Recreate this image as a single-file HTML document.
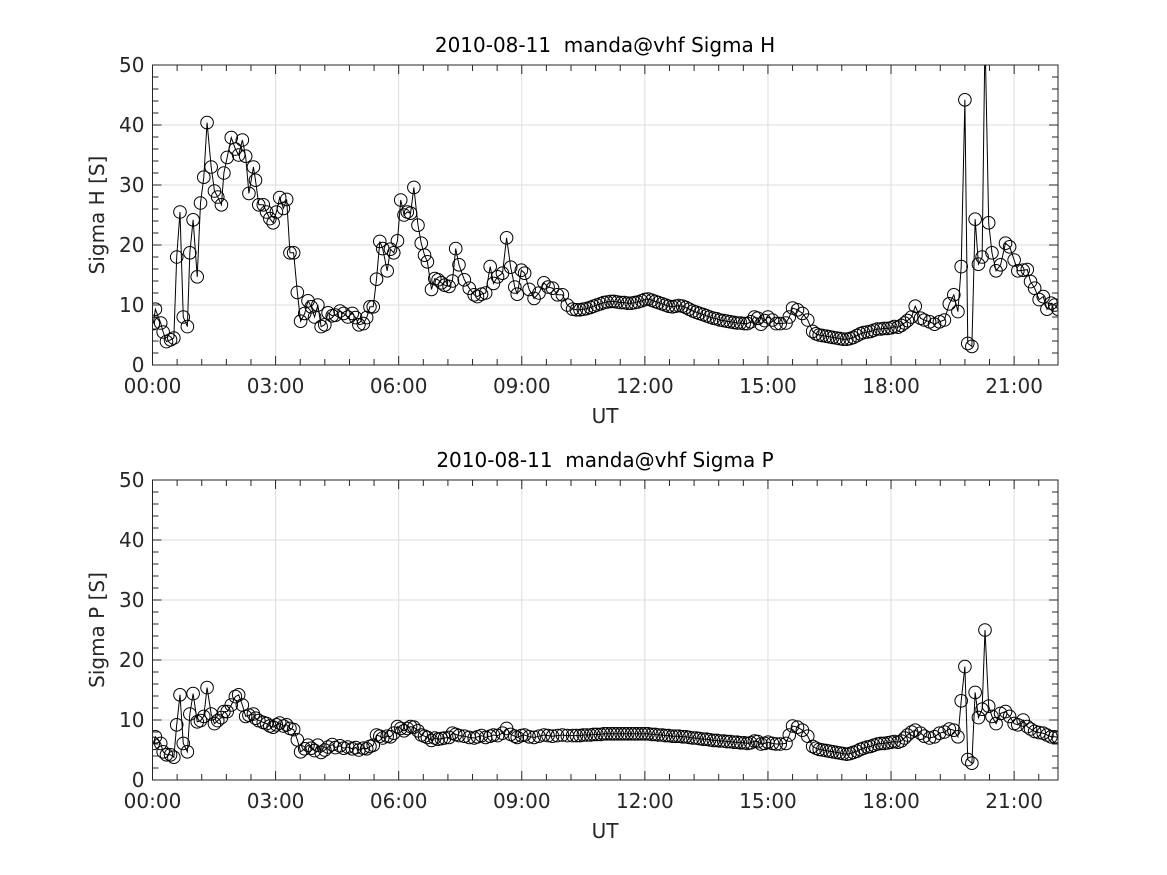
<!DOCTYPE html>
<html><head><meta charset="utf-8"><style>
html,body{margin:0;padding:0;background:#fff;}
svg{display:block;font-family:"DejaVu Sans","Liberation Sans",sans-serif;}
</style></head><body>
<svg id="fig" width="1167" height="875" viewBox="0 0 1167 875" xmlns="http://www.w3.org/2000/svg"></svg>
<script>
const times = [0.02,0.07,0.20,0.26,0.34,0.44,0.52,0.59,0.67,0.75,0.85,0.91,0.99,1.09,1.17,1.25,1.33,1.43,1.51,1.59,1.68,1.74,1.82,1.92,2.02,2.10,2.19,2.27,2.35,2.46,2.51,2.59,2.70,2.78,2.86,2.94,3.02,3.10,3.19,3.27,3.35,3.44,3.53,3.61,3.71,3.79,3.87,3.95,4.03,4.11,4.20,4.28,4.38,4.46,4.57,4.66,4.76,4.87,4.95,5.03,5.14,5.22,5.30,5.38,5.46,5.54,5.61,5.72,5.80,5.88,5.97,6.05,6.13,6.21,6.29,6.37,6.47,6.55,6.63,6.70,6.80,6.88,6.96,7.04,7.12,7.23,7.31,7.39,7.47,7.60,7.72,7.84,7.92,8.02,8.12,8.23,8.31,8.41,8.53,8.63,8.73,8.83,8.89,8.99,9.07,9.18,9.30,9.42,9.54,9.64,9.75,9.87,9.99,10.11,10.24,
10.33,10.42,10.5,10.58,10.67,10.75,10.83,10.92,11.0,11.08,11.17,11.25,11.33,11.42,11.5,11.58,11.67,11.75,11.83,11.92,12.0,12.08,12.17,12.25,12.33,12.42,12.5,12.58,12.67,12.75,12.83,12.92,13.0,13.08,13.17,13.25,13.33,13.42,13.5,13.58,13.67,13.75,13.83,13.92,14.0,14.08,14.17,14.25,14.33,14.42,14.5,14.58,14.67,14.75,14.83,14.92,15.0,15.11,15.2,15.3,15.44,15.52,15.6,15.72,15.84,15.97,16.09,16.17,16.25,16.33,16.42,16.5,16.58,16.67,16.75,16.83,16.92,17.0,17.08,17.17,17.25,17.33,17.42,17.5,17.58,17.67,17.75,17.83,17.92,18.0,18.08,18.17,18.25,18.33,18.4,18.5,18.59,18.72,18.81,18.94,19.06,19.18,19.3,19.42,19.53,19.63,
19.71,19.8,19.87,19.97,20.05,20.13,20.22,20.29,20.38,20.46,20.56,20.67,20.79,20.89,21.0,21.09,21.22,21.32,21.4,21.5,21.61,21.71,21.8,21.9,21.99,22.07];
const sigmaH = [6.9,9.3,7.0,5.5,3.9,4.2,4.5,18.0,25.5,8.0,6.4,18.7,24.2,14.7,27.0,31.3,40.4,33.0,29.0,28.0,26.7,32.0,34.6,37.9,36.0,35.0,37.5,34.8,28.6,33.0,30.8,26.7,26.7,25.5,24.4,23.7,25.5,27.9,26.1,27.6,18.7,18.7,12.1,7.3,8.6,10.7,9.7,8.0,10.0,6.4,6.7,8.7,8.2,8.3,9.0,8.6,8.0,8.6,7.9,6.7,6.9,7.9,9.7,9.7,14.3,20.6,19.4,15.7,19.3,18.7,20.7,27.5,25.0,25.5,25.3,29.6,23.3,20.3,18.3,17.2,12.6,14.4,14.2,13.7,13.3,13.1,14.0,19.4,16.7,14.2,12.8,11.7,11.4,11.8,12.0,16.4,13.6,14.7,15.3,21.2,16.3,13.0,11.8,15.8,15.3,12.6,11.1,12.0,13.7,13.0,12.8,11.7,11.7,10.0,9.3,
9.2,9.2,9.3,9.4,9.6,9.8,10.0,10.2,10.4,10.5,10.6,10.6,10.5,10.4,10.4,10.3,10.3,10.4,10.5,10.7,10.9,11.0,10.8,10.6,10.4,10.2,10.0,9.8,9.7,9.8,9.9,9.8,9.6,9.3,9.0,8.8,8.6,8.4,8.2,8.0,7.8,7.7,7.5,7.4,7.3,7.2,7.1,7.0,7.0,6.9,6.9,7.2,8.0,7.8,6.8,7.4,8.0,7.5,6.9,6.9,7.0,8.0,9.5,9.2,8.6,7.5,5.6,5.2,5.0,4.9,4.8,4.7,4.6,4.5,4.4,4.3,4.3,4.4,4.6,4.9,5.2,5.4,5.5,5.6,5.8,6.0,6.0,6.1,6.1,6.2,6.4,6.3,6.6,7.0,7.4,8.0,9.8,7.8,7.5,7.2,6.8,7.2,7.5,10.2,11.7,8.9,
16.4,44.2,3.6,3.1,24.3,16.8,18.0,55,23.7,18.7,15.7,16.7,20.3,19.7,17.5,15.7,15.8,15.9,13.9,12.8,10.9,11.4,9.3,10.3,10.0,9.3];
const sigmaP = [6.1,7.2,6.1,4.7,4.2,4.2,3.8,9.2,14.2,6.1,4.7,11.0,14.4,9.7,9.9,10.6,15.4,11.0,9.4,9.9,10.4,11.4,11.4,12.5,13.9,14.2,12.5,10.6,10.8,11.0,10.3,9.9,9.6,9.4,9.0,8.8,9.2,9.5,9.0,9.2,8.6,8.4,6.7,4.7,5.2,5.8,5.3,4.9,5.8,4.6,5.0,5.5,5.9,5.4,5.7,5.3,5.5,5.2,5.4,5.0,5.3,5.2,5.6,5.8,7.5,7.3,7.0,7.3,7.2,7.8,8.9,8.6,8.2,8.6,8.9,8.8,8.2,7.5,7.3,7.1,6.6,7.0,6.8,6.9,7.0,7.1,7.8,7.6,7.4,7.3,7.1,7.0,7.2,7.4,7.1,7.3,7.5,7.4,7.8,8.6,7.6,7.3,7.1,7.4,7.5,7.2,7.1,7.3,7.5,7.4,7.3,7.4,7.5,7.4,7.4,
7.4,7.4,7.5,7.5,7.5,7.6,7.6,7.6,7.7,7.7,7.7,7.7,7.7,7.7,7.7,7.7,7.7,7.7,7.7,7.7,7.7,7.7,7.6,7.6,7.5,7.5,7.4,7.4,7.3,7.3,7.3,7.2,7.2,7.1,7.0,7.0,6.9,6.8,6.8,6.7,6.6,6.6,6.5,6.5,6.4,6.4,6.3,6.3,6.2,6.2,6.1,6.2,6.5,6.4,6.0,6.1,6.3,6.1,6.0,6.0,6.1,7.5,9.0,8.8,8.3,7.3,5.6,5.3,5.1,5.0,4.9,4.8,4.7,4.6,4.5,4.4,4.3,4.4,4.6,4.8,5.1,5.3,5.5,5.6,5.8,6.0,6.1,6.1,6.2,6.3,6.4,6.3,6.5,7.0,7.5,8.0,8.3,7.8,7.3,7.0,7.2,7.8,8.0,8.5,8.3,7.2,
13.2,18.9,3.4,2.8,14.6,10.4,11.8,25.0,12.3,10.6,9.4,11.1,11.4,10.6,9.4,9.2,10.0,8.9,8.5,8.1,7.9,7.8,7.5,7.2,7.2,7.1];
const xTickHours = [0,3,6,9,12,15,18,21];
const xTickLabels = ["00:00","03:00","06:00","09:00","12:00","15:00","18:00","21:00"];
const yTicks = [0,10,20,30,40,50];

const NS="http://www.w3.org/2000/svg";
const svg=document.getElementById('fig');
function mk(tag,attrs,parent){const e=document.createElementNS(NS,tag);for(const k in attrs)e.setAttribute(k,attrs[k]);(parent||svg).appendChild(e);return e;}
const X0=152.5,X1=1058,XMAX=(1058-152.5)/41.03;

function panel(top,title,ylabel,vals,id){
  const Y0=top,Y1=top+300;
  const g=mk('g',{});
  
  
  const xs=h=>X0+(X1-X0)*h/XMAX;
  const ys=v=>Y1-(Y1-Y0)*v/50;
  xTickHours.forEach(h=>{if(h>0){const l=mk('line',{x1:xs(h),x2:xs(h),y1:Y0,y2:Y1,stroke:'#dcdcdc','stroke-width':1},g);
    }});
  yTicks.forEach(v=>{if(v>0&&v<50){const l=mk('line',{x1:X0,x2:X1,y1:ys(v),y2:ys(v),stroke:'#dcdcdc','stroke-width':1},g);
    }});
  const cp=mk('clipPath',{id:'c'+id},g);mk('rect',{x:X0,y:Y0,width:X1-X0,height:Y1-Y0},cp);
  const dg=mk('g',{'clip-path':'url(#c'+id+')'},g);
  
  
  let d='';times.forEach((t,i)=>{d+=(i?'L':'M')+xs(t).toFixed(2)+' '+ys(vals[i]).toFixed(2);});
  const line=mk('path',{d:d,fill:'none',stroke:'#000','stroke-width':1},dg);
  
  
  times.forEach((t,i)=>{const c=mk('circle',{cx:xs(t),cy:ys(vals[i]),r:6.3,fill:'none',stroke:'#000','stroke-width':1},dg);
    
    });
  const bx=mk('rect',{x:X0,y:Y0,width:X1-X0,height:Y1-Y0,fill:'none',stroke:'#262626','stroke-width':1},g);
  
  let td='';
  for(let k=0;k*0.6<=XMAX+0.001;k++){const h=k*0.6;const x=xs(h);const major=(k%5===0);const L=major?9:6;
    td+=`M${x} ${Y1}V${Y1-L}M${x} ${Y0}V${Y0+L}`;}
  for(let k=0;k<=25;k++){const v=k*2;const y=ys(v);const L=(k%5===0)?9:6;td+=`M${X0} ${y}H${X0+L}M${X1} ${y}H${X1-L}`;}
  const tk=mk('path',{d:td,stroke:'#262626','stroke-width':1,fill:'none'},g);
  
  xTickHours.forEach((h,i)=>{const t=mk('text',{x:xs(h),y:Y1+28,'text-anchor':'middle','font-size':20,fill:'#262626'},g);t.textContent=xTickLabels[i];
    });
  yTicks.forEach(v=>{const t=mk('text',{x:X0-8,y:ys(v)+7,'text-anchor':'end','font-size':20,fill:'#262626'},g);t.textContent=v;
    });
  const xt=mk('text',{x:605,y:Y1+58,'text-anchor':'middle','font-size':20,fill:'#262626'},g);xt.textContent='UT';
  
  const yt=mk('text',{x:0,y:0,'text-anchor':'middle','font-size':20,fill:'#262626',transform:`translate(104 ${(Y0+Y1)/2}) rotate(-90)`},g);yt.textContent=ylabel;
  
  const tt=mk('text',{x:605,y:Y0-13,'text-anchor':'middle','font-size':20,fill:'#000',style:'white-space:pre'},g);tt.textContent=title;
  
}
panel(65,'2010-08-11  manda@vhf Sigma H','Sigma H [S]',sigmaH,'sigma-h');
panel(480,'2010-08-11  manda@vhf Sigma P','Sigma P [S]',sigmaP,'sigma-p');
</script>
</body></html>
